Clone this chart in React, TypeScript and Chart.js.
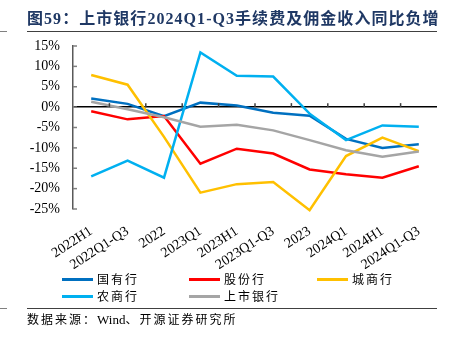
import React, { useEffect, useRef } from "react";
import { Chart, registerables } from "chart.js";

Chart.register(...registerables);

const categories = ["2022H1", "2022Q1-Q3", "2022", "2023Q1", "2023H1", "2023Q1-Q3", "2023", "2024Q1", "2024H1", "2024Q1-Q3"];
const seriesNames = ["国有行", "股份行", "城商行", "农商行", "上市银行"];
const seriesColors = ["#0070C0", "#FF0000", "#FFC000", "#00B0F0", "#A5A5A5"];
const stateOwned = [2.1, 0.8, -2.2, 1.1, 0.4, -1.4, -2.1, -7.8, -10.0, -9.1];
const jointStock = [-1.0, -3.0, -2.2, -13.9, -10.2, -11.4, -15.3, -16.5, -17.3, -14.5];
const cityComm = [7.9, 5.5, -7.3, -21.0, -18.9, -18.4, -25.3, -12.0, -7.5, -10.8];
const ruralComm = [-17.0, -13.1, -17.3, 13.4, 7.7, 7.5, -1.6, -8.1, -4.5, -4.8];
const listedBanks = [1.3, -0.5, -2.5, -4.8, -4.3, -5.7, -8.1, -10.6, -12.2, -10.9];
const yMin = -25;
const yMax = 15;
const yStep = 5;

const allSeries = [stateOwned, jointStock, cityComm, ruralComm, listedBanks];

const tickPlugin = {
  id: "innerTicks",
  afterDatasetsDraw(chart: any) {
    const ctx = chart.ctx;
    const xs = chart.scales.x;
    const ys = chart.scales.y;
    ctx.save();
    ctx.strokeStyle = "#7F7F7F";
    ctx.lineWidth = 1.5;
    ys.ticks.forEach((t: any) => {
      const y = ys.getPixelForValue(t.value);
      ctx.beginPath();
      ctx.moveTo(ys.right, y);
      ctx.lineTo(ys.right + 4, y);
      ctx.stroke();
    });
    const y0 = ys.getPixelForValue(0);
    const n = categories.length;
    ctx.strokeStyle = "#404040";
    for (let i = 1; i < n; i++) {
      const x = (xs.getPixelForValue(i - 1) + xs.getPixelForValue(i)) / 2;
      ctx.beginPath();
      ctx.moveTo(x, y0);
      ctx.lineTo(x, y0 - 4);
      ctx.stroke();
    }
    ctx.restore();
  },
};

export default function App() {
  const ref = useRef<HTMLCanvasElement | null>(null);
  useEffect(() => {
    if (!ref.current) return;
    const chart = new Chart(ref.current, {
      type: "line",
      data: {
        labels: categories,
        datasets: allSeries.map((d, i) => ({
          label: seriesNames[i],
          data: d,
          borderColor: seriesColors[i],
          backgroundColor: seriesColors[i],
          borderWidth: 2.5,
          pointRadius: 0,
          tension: 0,
          fill: false,
          clip: false as any,
          order: allSeries.length - i,
        })),
      },
      options: {
        animation: false,
        responsive: false,
        devicePixelRatio: 1,
        layout: { padding: { top: 46, right: 17, bottom: 74, left: 0 } },
        plugins: { legend: { display: false }, tooltip: { enabled: false }, title: { display: false } },
        scales: {
          x: {
            type: "category",
            offset: true,
            grid: { display: false, drawTicks: false },
            border: { display: false },
            afterFit: (s: any) => {
              s.height = 60;
            },
            ticks: {
              autoSkip: false,
              minRotation: 33,
              maxRotation: 33,
              padding: 14,
              color: "#000",
              font: { family: "'Liberation Serif', 'Times New Roman', serif", size: 14 },
            },
          },
          y: {
            min: yMin,
            max: yMax,
            afterFit: (s: any) => {
              s.width = 73;
            },
            ticks: {
              stepSize: yStep,
              padding: 13,
              color: "#000",
              font: { family: "'Liberation Serif', 'Times New Roman', serif", size: 14 },
              callback: (v: any) => `${v}%`,
            },
            grid: {
              drawTicks: false,
              lineWidth: 1.5,
              color: (c: any) => (c.tick && c.tick.value === 0 ? "#000000" : "rgba(0,0,0,0)"),
            },
            border: { display: true, color: "#595959", width: 1.5 },
          },
        },
      },
      plugins: [tickPlugin],
    });
    return () => chart.destroy();
  }, []);

  const legendCols = [62, 189, 317];
  const legendRows = [279, 296];
  const cjk = { letterSpacing: 2 };

  return (
    <div style={{ position: "absolute", left: 0, top: 0, width: 454, height: 343, background: "#fff", overflow: "hidden" }}>
      <canvas ref={ref} width={454} height={343} style={{ position: "absolute", left: 0, top: 0, width: 454, height: 343 }} />
      <div
        style={{
          position: "absolute",
          left: 27,
          top: 9,
          whiteSpace: "nowrap",
          fontFamily: "'Liberation Serif', 'Noto Sans CJK SC', serif",
          fontWeight: "bold",
          fontSize: 16,
          letterSpacing: 1.05,
          color: "#1F3864",
          lineHeight: "20px",
        }}
      >
        图59：上市银行2024Q1-Q3手续费及佣金收入同比负增
      </div>
      <div style={{ position: "absolute", left: 27, top: 31, width: 410, height: 0, borderTop: "1.5px solid #404040" }} />
      <div style={{ position: "absolute", left: 0, top: 31, width: 7, height: 0, borderTop: "1px solid #808080" }} />
      {seriesNames.map((name, i) => (
        <div
          key={name}
          style={{
            position: "absolute",
            left: legendCols[i % 3],
            top: legendRows[Math.floor(i / 3)] - 9,
            height: 18,
            display: "flex",
            alignItems: "center",
            whiteSpace: "nowrap",
          }}
        >
          <span style={{ display: "inline-block", width: 31, height: 3, background: seriesColors[i], marginRight: 4 }} />
          <span
            style={{
              fontFamily: "'Noto Sans CJK SC', sans-serif",
              fontSize: 12,
              letterSpacing: 2,
              color: "#000",
              lineHeight: "18px",
            }}
          >
            {name}
          </span>
        </div>
      ))}
      <div style={{ position: "absolute", left: 27, top: 308, width: 410, height: 0, borderTop: "1.5px solid #404040" }} />
      <div style={{ position: "absolute", left: 0, top: 308, width: 7, height: 0, borderTop: "1px solid #808080" }} />
      <div
        style={{
          position: "absolute",
          left: 27,
          top: 312,
          whiteSpace: "nowrap",
          fontFamily: "'Liberation Serif', 'Noto Sans CJK SC', serif",
          fontSize: 12,
          color: "#000",
          lineHeight: "16px",
        }}
      >
        <span style={cjk}>数据来源：</span>
        <span style={{ fontSize: 13 }}>Wind</span>
        <span style={cjk}>、开源证券研究所</span>
      </div>
    </div>
  );
}
